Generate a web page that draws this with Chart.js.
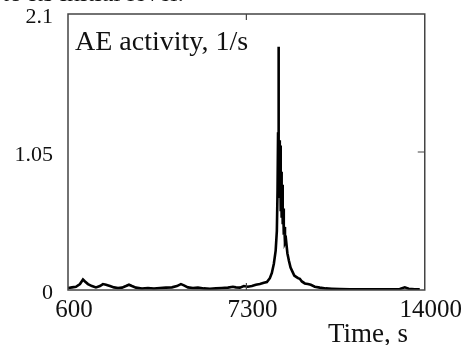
<!DOCTYPE html>
<html>
<head>
<meta charset="utf-8">
<script src="https://cdn.jsdelivr.net/npm/chart.js@4"></script>
<style>
    html, body { margin: 0; padding: 0; background: #fff; }
    #wrap { width: 461px; height: 345px; }
</style>
</head>
<body>
<div id="wrap"><canvas id="aeChart"></canvas></div>
<script>
// Time axis, s
const times = [
    600, 750, 900, 1050, 1163, 1238, 1350, 1500, 1650, 1800,
    1914, 2026, 2176, 2327, 2477, 2627, 2777, 2890, 3002, 3152,
    3378, 3603, 3828, 4053, 4278, 4504, 4691, 4842, 4954, 5104,
    5292, 5480, 5705, 5930, 6155, 6380, 6606, 6794, 6906, 7056,
    7206, 7356, 7507, 7657, 7807, 7957, 8070, 8182, 8257, 8332,
    8400, 8445, 8470, 8490, 8505, 8520, 8535, 8555, 8570, 8590,
    8605, 8625, 8645, 8665, 8685, 8705, 8725, 8750, 8790, 8840,
    8900, 8960, 9030, 9100, 9170, 9240, 9308, 9383, 9496, 9608,
    9721, 9871, 10059, 10284, 10510, 10810, 11185, 11560, 11936, 12311,
    12687, 13062, 13250, 13400, 13625, 13812
];

// AE activity, 1/s
const activity = [
    0.015, 0.02, 0.025, 0.045, 0.08, 0.065, 0.045, 0.03, 0.02, 0.03,
    0.045, 0.04, 0.03, 0.02, 0.015, 0.018, 0.03, 0.04, 0.03, 0.018,
    0.012, 0.015, 0.012, 0.015, 0.018, 0.02, 0.03, 0.045, 0.035, 0.02,
    0.015, 0.018, 0.012, 0.01, 0.012, 0.015, 0.018, 0.025, 0.02, 0.018,
    0.03, 0.025, 0.03, 0.04, 0.045, 0.055, 0.06, 0.09, 0.13, 0.2,
    0.3, 0.45, 0.75, 1.2, 1.85, 1.0, 1.14, 0.7, 1.1, 0.6,
    0.9, 0.55, 0.8, 0.5, 0.62, 0.42, 0.48, 0.36, 0.38, 0.28,
    0.22, 0.17, 0.14, 0.11, 0.1, 0.09, 0.085, 0.065, 0.05, 0.045,
    0.04, 0.025, 0.018, 0.012, 0.01, 0.008, 0.006, 0.005, 0.006, 0.005,
    0.006, 0.008, 0.02, 0.01, 0.005, 0.005
];

// Tick labels
const xTicks = [600, 7300, 14000];
const yTicks = [0, 1.05, 2.1];

const SERIF = "'Liberation Serif', 'Times New Roman', serif";

// Frame, inner tick marks and free text
const framePlugin = {
    id: 'frame',
    afterDraw(chart) {
        const { ctx, chartArea: a, scales } = chart;
        ctx.save();

        // box round the plot
        ctx.strokeStyle = '#444';
        ctx.lineWidth = 1.5;
        ctx.strokeRect(a.left, a.top, a.right - a.left, a.bottom - a.top);

        // small inward ticks at the middle values
        const xm = scales.x.getPixelForValue(xTicks[1]);
        const ym = scales.y.getPixelForValue(yTicks[1]);
        ctx.lineWidth = 1.2;
        ctx.beginPath();
        ctx.moveTo(xm, a.top); ctx.lineTo(xm, a.top + 6);
        ctx.moveTo(xm, a.bottom); ctx.lineTo(xm, a.bottom - 7);
        ctx.moveTo(a.right, ym); ctx.lineTo(a.right - 7, ym);
        ctx.stroke();

        // labels
        ctx.fillStyle = '#111';
        ctx.textBaseline = 'alphabetic';
        ctx.textAlign = 'left';
        ctx.font = '28px ' + SERIF;
        ctx.fillText('AE activity, 1/s', a.left + 7, 50);
        ctx.font = '27px ' + SERIF;
        ctx.fillText('Time, s', 328, 342);

        // tail of the line of text above the figure
        ctx.font = '26px ' + SERIF;
        ctx.fillText('to its initial level.', 2, 1);

        ctx.restore();
    }
};

function initializeChart() {
    const ctx = document.getElementById('aeChart').getContext('2d');

    const data = {
        datasets: [{
            data: times.map((t, i) => ({ x: t, y: activity[i] })),
            borderColor: '#000',
            borderWidth: 2.6,
            pointRadius: 0,
            tension: 0,
            fill: false
        }]
    };

    const config = {
        type: 'line',
        data: data,
        options: {
            responsive: true,
            maintainAspectRatio: false,
            animation: false,
            layout: {
                padding: { top: 14, right: 36, left: 0, bottom: 0 }
            },
            plugins: {
                legend: { display: false },
                tooltip: { enabled: false }
            },
            scales: {
                x: {
                    type: 'linear',
                    min: 600,
                    max: 14000,
                    grid: { display: false, drawTicks: false },
                    border: { display: false },
                    afterBuildTicks: s => { s.ticks = xTicks.map(v => ({ value: v })); },
                    afterFit: s => { s.height = 55; },
                    ticks: {
                        color: '#111',
                        padding: 5,
                        labelOffset: 6,
                        maxRotation: 0,
                        font: { family: SERIF, size: 25 },
                        callback: v => String(v)
                    }
                },
                y: {
                    min: 0,
                    max: 2.1,
                    grid: { display: false, drawTicks: false },
                    border: { display: false },
                    afterBuildTicks: s => { s.ticks = yTicks.map(v => ({ value: v })); },
                    afterFit: s => {
                        // label overhang is not wanted: the frame sets the area
                        s.width = 68;
                        s.paddingTop = 0;
                        s.paddingBottom = 0;
                    },
                    ticks: {
                        color: '#111',
                        padding: 15,
                        labelOffset: 3,
                        font: { family: SERIF, size: 22 },
                        callback: v => String(v)
                    }
                }
            }
        },
        plugins: [framePlugin]
    };

    new Chart(ctx, config);
}

document.addEventListener('DOMContentLoaded', initializeChart);
</script>
</body>
</html>
